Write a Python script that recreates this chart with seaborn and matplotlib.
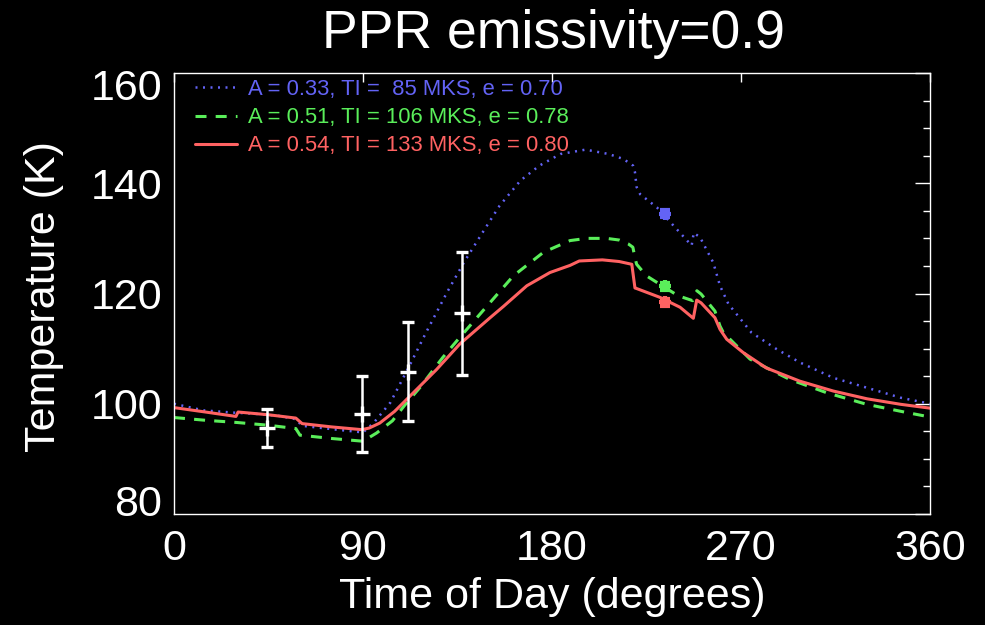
import matplotlib
matplotlib.use("Agg")
import matplotlib.pyplot as plt
import matplotlib.transforms as mtransforms
import numpy as np
import pandas as pd
import seaborn as sns

# ---------------- data ----------------
title = "PPR emissivity=0.9"
x_label = "Time of Day (degrees)"
y_label = "Temperature (K)"
x_ticks = [0, 90, 180, 270, 360]
y_ticks = [80, 100, 120, 140, 160]

labels = ["A = 0.33, TI =  85 MKS, e = 0.70",
          "A = 0.51, TI = 106 MKS, e = 0.78",
          "A = 0.54, TI = 133 MKS, e = 0.80"]
colors = ["#6363f5", "#5aee5a", "#ff6262"]

blue_t = [0, 14, 28, 38, 50, 58, 61, 75, 90, 95, 103, 112, 120, 130, 138, 146, 155,
          165, 174, 184, 196, 207, 214, 218.6, 219.5, 220.3, 222, 230, 238.6, 246.5,
          247.5, 250.5, 256.8, 260, 264, 275, 287, 298, 314, 330, 346, 360]
blue_k = [100.0, 98.8, 98.4, 98.2, 97.8, 97.2, 96.0, 95.4, 94.8, 96.5, 100.2, 106.8,
          112.9, 120.2, 125.6, 130.5, 135.9, 140.5, 143.2, 145.3, 146.1, 145.3, 144.4,
          143.2, 142.0, 139.3, 138.0, 135.6, 132.0, 128.7, 131.0, 130.2, 125.6, 121.4,
          118.1, 112.9, 109.9, 107.5, 104.7, 102.9, 101.1, 100.0]

green_t = [0, 15, 30, 45, 58, 60, 75, 90, 96.5, 104, 110, 117, 128, 136, 149, 161.6,
           176, 188.6, 196.5, 206, 212, 216.3, 218.5, 219.5, 220.3, 225, 240, 247, 249,
           251, 257.6, 260, 261.6, 274.3, 283.8, 293.3, 310.8, 329.8, 349, 360]
green_k = [97.5, 97.0, 96.6, 96.1, 95.5, 94.3, 93.7, 93.2, 94.7, 96.9, 99.8, 102.9,
           108.4, 112.0, 117.7, 123.2, 127.5, 129.6, 130.0, 130.0, 129.7, 129.0, 128.4,
           126.5, 125.3, 123.2, 119.6, 118.7, 120.5, 119.9, 116.8, 114.1, 112.9, 108.1,
           106.2, 104.4, 102.0, 99.9, 98.4, 97.6]

red_t = [0, 15, 29.5, 30.5, 45, 58, 61, 75, 89.5, 93, 98, 105, 112.4, 125, 136, 150.5,
         157, 168, 179, 188.6, 193, 204, 212, 218, 219.5, 220.3, 231.4, 241, 247.3,
         248.9, 251, 257.6, 260, 263.2, 271, 282, 298, 314, 330, 346, 360]
red_k = [99.3, 98.5, 97.7, 98.5, 98.0, 97.4, 96.4, 95.8, 95.3, 95.6, 96.5, 98.6, 101.4,
         106.2, 110.8, 115.6, 117.7, 121.4, 123.8, 125.1, 125.9, 126.1, 125.8, 125.3,
         121.0, 120.9, 119.3, 117.5, 115.5, 118.8, 118.3, 115.6, 113.5, 111.7, 109.3,
         106.5, 104.1, 102.3, 100.9, 99.9, 99.2]

obs_t = [44.5, 89.5, 111.3, 137.0]
obs_k = [95.6, 98.2, 105.8, 116.4]
obs_err = [3.5, 6.9, 9.0, 11.1]

model_obs_t = [234.0, 234.0, 234.0]
model_obs_k = [134.5, 121.3, 118.4]
model_obs_err = [0.6, 0.6, 0.6]

# ---------------- style ----------------
sns.set_theme(style="dark", rc={
    "figure.facecolor": "black", "axes.facecolor": "black",
    "savefig.facecolor": "black", "axes.edgecolor": "white",
    "text.color": "white", "axes.labelcolor": "white",
    "xtick.color": "white", "ytick.color": "white",
    "axes.grid": False, "axes.linewidth": 1.0,
})
plt.rcParams["font.family"] = ["Liberation Sans", "DejaVu Sans"]

fig = plt.figure(figsize=(9.85, 6.25), dpi=100)
ax = fig.add_axes([174 / 985, 1 - 514 / 625, 756 / 985, 441 / 625])

series = [(blue_t, blue_k), (green_t, green_k), (red_t, red_k)]
styles = [(0, (0.8, 2.2)), (0, (3.6, 3.0)), "-"]
widths = [1.8, 2.2, 2.2]
for (t, k), lab, col, ls, lw in zip(series, labels, colors, styles, widths):
    df = pd.DataFrame({"t": t, "k": k})
    sns.lineplot(data=df, x="t", y="k", ax=ax, color=col, label=lab,
                 sort=False, estimator=None, linewidth=lw)
    ax.lines[-1].set_linestyle(ls)

ax.errorbar(obs_t, obs_k, yerr=obs_err, fmt="+", color="white", ecolor="white",
            elinewidth=1.8, capsize=4.5, capthick=1.8, markersize=11, mew=2.4, zorder=5)
for t, k, e, c in zip(model_obs_t, model_obs_k, model_obs_err, colors):
    ax.errorbar([t], [k], yerr=[e], fmt="+", color=c, ecolor=c, elinewidth=2.5,
                capsize=3.5, capthick=2.5, markersize=9, mew=3, zorder=5)

ax.set_xlim(0, 360)
ax.set_ylim(80, 160)
ax.set_xticks(x_ticks, labels=[str(v) for v in x_ticks])
ax.set_yticks(y_ticks, labels=[str(v) for v in y_ticks])
ax.set_yticks(np.arange(80, 161, 5), minor=True)

ax.tick_params(axis="both", which="both", direction="in", top=True, right=True,
               colors="white", width=1.0)
ax.tick_params(axis="x", which="major", length=6.3, pad=11, labelsize=31)
ax.tick_params(axis="y", which="major", length=10.8, pad=8.5, labelsize=31)
ax.tick_params(axis="y", which="minor", length=5.4)
for s in ax.spines.values():
    s.set_color("white")
    s.set_linewidth(1.0)

# shift end labels inward as in the original
ylbls = ax.get_yticklabels()
ylbls[0].set_transform(ylbls[0].get_transform() +
                       mtransforms.ScaledTranslation(0, 13 / 100, fig.dpi_scale_trans))
ylbls[-1].set_transform(ylbls[-1].get_transform() +
                        mtransforms.ScaledTranslation(0, -12 / 100, fig.dpi_scale_trans))

ax.set_xlabel(x_label, fontsize=31)
ax.set_ylabel(y_label, fontsize=31)
ax.xaxis.set_label_coords(0.5, -0.1429)
ax.yaxis.set_label_coords(-0.1455, 0.492)

fig.text(553 / 985, 1 - 48 / 625, title, fontsize=38.5, ha="center", va="baseline",
         color="white")

leg = ax.legend(loc="upper left", bbox_to_anchor=(0.0278, 0.9864), frameon=False,
                fontsize=15.8, handlelength=1.92, handletextpad=0.5,
                labelspacing=0.33, borderpad=0, borderaxespad=0,
                labelcolor="linecolor")

fig.savefig("out.png", dpi=100, facecolor="black")
